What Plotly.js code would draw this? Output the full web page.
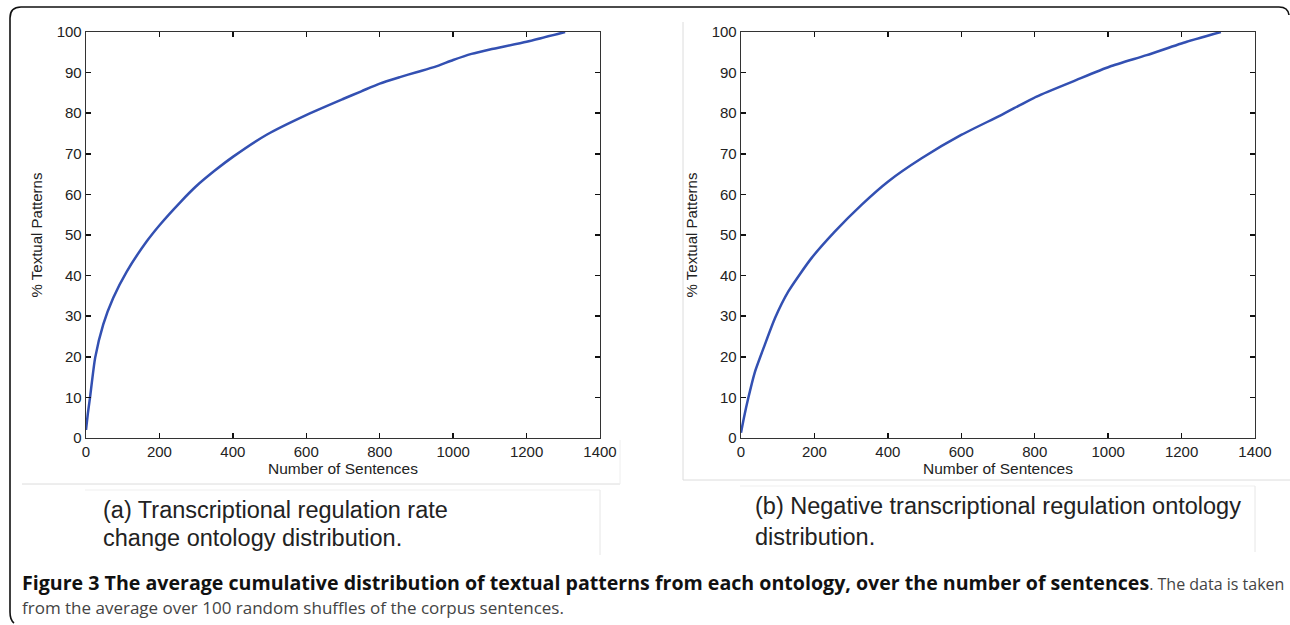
<!DOCTYPE html>
<html>
<head>
<meta charset="utf-8">
<script src="https://cdn.plot.ly/plotly-3.0.1.min.js"></script>
<style>html,body{margin:0;padding:0;background:#fff;}#chart{width:1290px;height:625px;}</style>
</head>
<body>
<div id="chart"></div>
<script>
// Panel (a): Transcriptional regulation rate change ontology
var sentencesA = [0, 5, 11, 25, 47, 74, 111, 165, 202, 256, 300, 350, 401, 492, 601, 700, 750, 800, 855, 900, 950, 1000, 1050, 1100, 1200, 1305];
var patternsA  = [2, 6, 10, 19.8, 28, 34.5, 41, 48.4, 52.6, 58, 62, 65.8, 69.3, 74.7, 79.6, 83.5, 85.4, 87.3, 88.9, 90.1, 91.4, 93.1, 94.6, 95.7, 97.6, 100];
// Panel (b): Negative transcriptional regulation ontology
var sentencesB = [0, 8, 20, 38, 65, 93, 129, 192, 256, 329, 401, 492, 601, 710, 805, 914, 1005, 1105, 1214, 1307];
var patternsB  = [1.3, 5, 9.9, 16.3, 23, 29.6, 36.1, 44.3, 50.9, 57.5, 63.2, 68.9, 74.7, 79.6, 84.1, 88.2, 91.5, 94.3, 97.6, 100];

var xTicks = [0, 200, 400, 600, 800, 1000, 1200, 1400];
var yTicks = [0, 10, 20, 30, 40, 50, 60, 70, 80, 90, 100];
var xTitle = "Number of Sentences";
var yTitle = "% Textual Patterns";
var captionA = ["(a) Transcriptional regulation rate", "change ontology distribution."];
var captionB = ["(b) Negative transcriptional regulation ontology", "distribution."];
var figBold = "Figure 3 The average cumulative distribution of textual patterns from each ontology, over the number of sentences";
var figRest = ". The data is taken";
var figLine2 = "from the average over 100 random shuffles of the corpus sentences.";

var W = 1290, H = 625;
function px(x){ return x / W; }
function py(y){ return 1 - y / H; }

var lineStyle = {color: '#3350b2', width: 2.5, shape: 'spline', smoothing: 0.6};
var traces = [
  {x: sentencesA, y: patternsA, type: 'scatter', mode: 'lines', line: lineStyle, xaxis: 'x', yaxis: 'y', hoverinfo: 'skip'},
  {x: sentencesB, y: patternsB, type: 'scatter', mode: 'lines', line: lineStyle, xaxis: 'x2', yaxis: 'y2', hoverinfo: 'skip'}
];

var axFont = 'Liberation Sans, Arial, sans-serif';
var tickFont = {family: axFont, size: 15, color: '#222'};
function xAxis(d, anchor){
  return {domain: d, anchor: anchor, range: [0, 1400], tickvals: xTicks, ticktext: xTicks.map(String),
    ticks: 'inside', ticklen: 5, tickwidth: 1.5, tickcolor: '#111', mirror: 'allticks', showline: true,
    linecolor: '#333', linewidth: 1.3, showgrid: false, zeroline: false, tickfont: tickFont,
    title: {text: xTitle, font: {family: axFont, size: 15.5, color: '#222'}, standoff: 2},
    automargin: false, fixedrange: true};
}
function yAxis(anchor){
  return {domain: [py(438), py(32)], anchor: anchor, range: [0, 100], tickvals: yTicks, ticktext: yTicks.map(String),
    ticks: 'inside', ticklen: 5, tickwidth: 1.5, tickcolor: '#111', mirror: 'allticks', showline: true,
    linecolor: '#333', linewidth: 1.3, showgrid: false, zeroline: false, tickfont: tickFont,
    title: {text: yTitle, font: {family: axFont, size: 15, color: '#222'}, standoff: 10},
    automargin: false, fixedrange: true};
}

var gray = '#dcdcdc';
var shapes = [
  {type: 'path', xref: 'paper', yref: 'paper',
   path: 'M ' + px(1289) + ',' + py(15) + ' Q ' + px(1288) + ',' + py(7) + ' ' + px(1279) + ',' + py(7) +
         ' L ' + px(21) + ',' + py(7) + ' Q ' + px(10) + ',' + py(7) + ' ' + px(10) + ',' + py(18) +
         ' L ' + px(10) + ',' + py(612) + ' Q ' + px(10) + ',' + py(620) + ' ' + px(14) + ',' + py(623),
   line: {color: '#111', width: 1.6}},
  {type: 'line', xref: 'paper', yref: 'paper', x0: px(22), x1: px(620), y0: py(484), y1: py(484), line: {color: gray, width: 1}},
  {type: 'line', xref: 'paper', yref: 'paper', x0: px(620), x1: px(620), y0: py(440), y1: py(484), line: {color: '#eeeeee', width: 1}},
  {type: 'line', xref: 'paper', yref: 'paper', x0: px(85), x1: px(600), y0: py(490), y1: py(490), line: {color: '#efefef', width: 1}},
  {type: 'line', xref: 'paper', yref: 'paper', x0: px(600), x1: px(600), y0: py(490), y1: py(555), line: {color: '#e6e6e6', width: 1}},
  {type: 'line', xref: 'paper', yref: 'paper', x0: px(683), x1: px(683), y0: py(22), y1: py(480), line: {color: gray, width: 1}},
  {type: 'line', xref: 'paper', yref: 'paper', x0: px(683), x1: px(1290), y0: py(480), y1: py(480), line: {color: gray, width: 1}},
  {type: 'line', xref: 'paper', yref: 'paper', x0: px(740), x1: px(1255), y0: py(486), y1: py(486), line: {color: '#efefef', width: 1}},
  {type: 'line', xref: 'paper', yref: 'paper', x0: px(1255), x1: px(1255), y0: py(486), y1: py(552), line: {color: '#e6e6e6', width: 1}}
];

var capFont = {family: axFont, size: 23.5, color: '#222'};
function capAnn(text, x, y){
  return {xref: 'paper', yref: 'paper', x: px(x), y: py(y), xanchor: 'left', yanchor: 'middle', align: 'left', showarrow: false, text: text, font: capFont};
}
var annotations = [
  capAnn(captionA[0], 101, 510), capAnn(captionA[1], 101, 538),
  capAnn(captionB[0], 753, 506), capAnn(captionB[1], 753, 537),
  {xref: 'paper', yref: 'paper', x: px(20), y: py(582), xanchor: 'left', yanchor: 'middle', align: 'left', showarrow: false,
   text: '<b><span style="font-size:19.6px;color:#111">' + figBold + '</span></b>' + figRest,
   font: {family: 'Open Sans, sans-serif', size: 16, color: '#444'}},
  {xref: 'paper', yref: 'paper', x: px(20), y: py(607), xanchor: 'left', yanchor: 'middle', align: 'left', showarrow: false,
   text: figLine2, font: {family: 'Open Sans, sans-serif', size: 17, color: '#444'}}
];

var layout = {
  width: W, height: H, margin: {l: 0, r: 0, t: 0, b: 0}, paper_bgcolor: '#fff', plot_bgcolor: '#fff', showlegend: false,
  xaxis: xAxis([px(86), px(600)], 'y'), yaxis: yAxis('x'),
  xaxis2: xAxis([px(741), px(1255)], 'y2'), yaxis2: yAxis('x2'),
  shapes: shapes, annotations: annotations
};
Plotly.newPlot('chart', traces, layout, {displayModeBar: false, staticPlot: true});
</script>
</body>
</html>
